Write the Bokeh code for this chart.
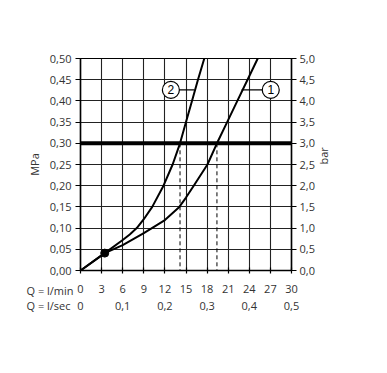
import math
from bokeh.plotting import figure
from bokeh.models import (Range1d, LinearAxis, FixedTicker, CustomJSTickFormatter,
                          Span, Label, ColumnDataSource)
from bokeh.embed import file_html
from bokeh.resources import INLINE

# ---- data ----
lmin_ticks = [0, 3, 6, 9, 12, 15, 18, 21, 24, 27, 30]
lsec_ticks = [0, 0.1, 0.2, 0.3, 0.4, 0.5]
mpa_ticks = [0, 0.05, 0.10, 0.15, 0.20, 0.25, 0.30, 0.35, 0.40, 0.45, 0.50]
bar_ticks = [0, 0.5, 1.0, 1.5, 2.0, 2.5, 3.0, 3.5, 4.0, 4.5, 5.0]

curve1_q = [0, 3.45, 6, 9, 12, 14.05, 15, 16.1, 18.05, 19.4, 20.85, 22.3, 23.75, 25.2]
curve1_p = [0, 0.041, 0.060, 0.088, 0.119, 0.15, 0.172, 0.20, 0.25, 0.30, 0.35, 0.40, 0.45, 0.50]
curve2_q = [0, 3.45, 6, 7, 8, 9, 10.2, 11.8, 13.1, 14.15, 15.0, 15.85, 16.7, 17.6]
curve2_p = [0, 0.041, 0.072, 0.085, 0.10, 0.121, 0.15, 0.20, 0.25, 0.30, 0.35, 0.40, 0.45, 0.50]

threshold_mpa = 0.30
crossing_q = [14.15, 19.4]          # flow at 0.30 MPa (curve 2, curve 1)
dot_q = [3.45]
dot_p = [0.041]

label_names = ["1", "2"]
label_q = [27.05, 12.85]
label_p = [0.426, 0.426]
label_curve_q = [22.9, 16.2]

row_titles = ["Q = l/min", "Q = l/sec"]

FONT = "Open Sans"
TXT = "#333333"

p = figure(width=379, height=365, output_backend="svg", toolbar_location=None,
           x_range=Range1d(0, 30), y_range=Range1d(0, 0.5),
           min_border_left=80, min_border_right=88, min_border_top=58,
           min_border_bottom=95)
p.outline_line_color = "black"
p.outline_line_width = 1.2
p.background_fill_color = "white"
p.border_fill_color = "white"

# grid
p.xgrid.ticker = FixedTicker(ticks=lmin_ticks)
p.ygrid.ticker = FixedTicker(ticks=mpa_ticks)
for g in (p.xgrid, p.ygrid):
    g.grid_line_color = "#222222"
    g.grid_line_width = 1.1
    g.grid_line_alpha = 1.0

comma2 = CustomJSTickFormatter(code="return tick.toFixed(2).replace('.', ',');")
comma1 = CustomJSTickFormatter(code="return tick.toFixed(1).replace('.', ',');")
comma_sec = CustomJSTickFormatter(code="return tick == 0 ? '0' : tick.toFixed(1).replace('.', ',');")

def style_axis(ax):
    ax.axis_line_color = "black"
    ax.axis_line_width = 1.5
    ax.major_tick_line_color = "black"
    ax.major_tick_line_width = 1.2
    ax.minor_tick_line_color = None
    ax.major_label_text_font = FONT
    ax.major_label_text_font_size = "11px"
    ax.major_label_text_color = TXT
    ax.axis_label_text_font = FONT
    ax.axis_label_text_font_size = "11px"
    ax.axis_label_text_font_style = "normal"
    ax.axis_label_text_color = TXT

# left axis
ly = p.yaxis[0]
ly.ticker = FixedTicker(ticks=mpa_ticks)
ly.formatter = comma2
style_axis(ly)
ly.major_tick_in = 0
ly.major_tick_out = 5
ly.major_label_standoff = 4
ly.axis_label = "MPa"
ly.axis_label_standoff = 5

# right axis
p.extra_y_ranges = {"bar": Range1d(0, 5)}
ry = LinearAxis(y_range_name="bar", ticker=FixedTicker(ticks=bar_ticks), formatter=comma1)
style_axis(ry)
ry.major_tick_in = 0
ry.major_tick_out = 5
ry.major_label_standoff = 3
ry.axis_label = "bar"
ry.axis_label_standoff = 6
ry.axis_label_orientation = math.pi / 2
p.add_layout(ry, "right")

# bottom axes
bx = p.xaxis[0]
bx.ticker = FixedTicker(ticks=lmin_ticks)
style_axis(bx)
bx.major_tick_in = 3
bx.major_tick_out = 3
bx.major_label_standoff = 11

p.extra_x_ranges = {"sec": Range1d(0, 0.5)}
sx = LinearAxis(x_range_name="sec", ticker=FixedTicker(ticks=lsec_ticks), formatter=comma_sec)
style_axis(sx)
sx.axis_line_color = None
sx.major_tick_line_color = None
sx.major_tick_in = 0
sx.major_tick_out = 0
sx.major_label_standoff = 6
p.add_layout(sx, "below")

# threshold line
p.add_layout(Span(location=threshold_mpa, dimension="width", line_color="black", line_width=4))

# dashed drop lines
p.segment(x0=crossing_q, y0=[threshold_mpa] * len(crossing_q), x1=crossing_q,
          y1=[0] * len(crossing_q), line_color="black", line_width=1, line_dash="4 3")

# curves
p.line(curve1_q, curve1_p, line_color="black", line_width=2, line_join="round")
p.line(curve2_q, curve2_p, line_color="black", line_width=2, line_join="round")
p.scatter(dot_q, dot_p, size=8, color="black")

# curve labels
p.segment(x0=label_q, y0=label_p, x1=label_curve_q, y1=label_p, line_color="black", line_width=1.2)
lsrc = ColumnDataSource(dict(x=label_q, y=label_p, t=label_names))
p.scatter("x", "y", source=lsrc, size=17, fill_color="white", line_color="black", line_width=1.2)
p.text("x", "y", text="t", source=lsrc, text_align="center", text_baseline="middle",
       text_font_size="12px", text_color="black")

# row titles for the two flow scales (placed in the bottom panel so they are not clipped)
for txt, yv in zip(row_titles, (-0.047, -0.0825)):
    p.add_layout(Label(x=-7.68, y=yv, text=txt, text_align="left", text_baseline="middle",
                       text_font=FONT, text_font_size="11px", text_color=TXT), "below")

open("out.html", "w").write(file_html(p, INLINE))
